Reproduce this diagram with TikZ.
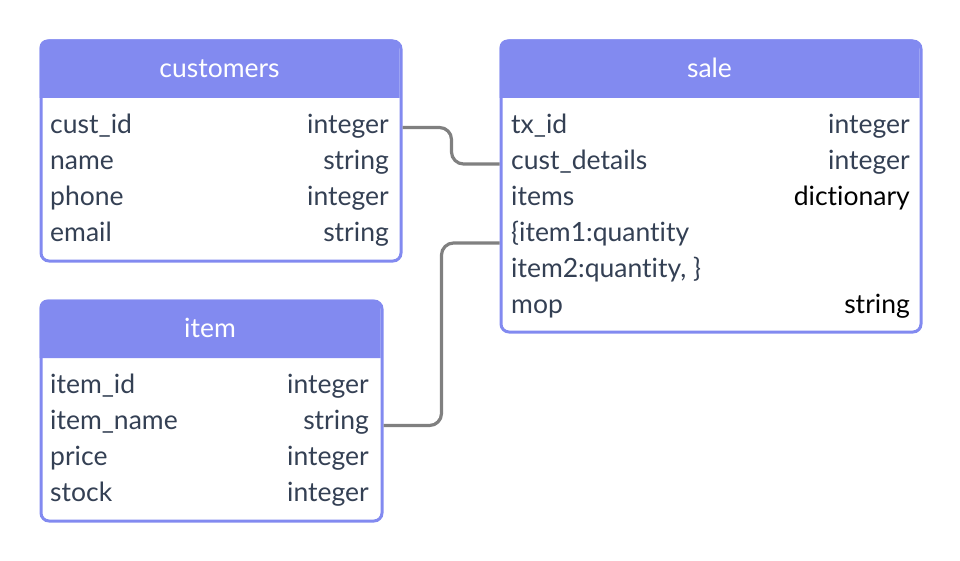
\documentclass[tikz,border=0pt]{standalone}
\usepackage{fontspec}
\setmainfont{Lato}[Ligatures=NoCommon]
\usepackage{xcolor}
\usetikzlibrary{positioning}

\definecolor{tablecolor}{RGB}{130,138,240}
\definecolor{fieldtext}{RGB}{52,64,84}
\definecolor{linkgray}{RGB}{128,128,128}

\begin{document}
\begin{tikzpicture}[x=1pt,y=-1pt,
  tablebox/.style={draw=tablecolor,fill=white,line width=3pt,rounded corners=8pt,anchor=north west,inner sep=0pt},
  headfill/.style={fill=tablecolor},
  title/.style={anchor=base,text=white,font=\fontsize{26.5}{30}\selectfont,inner sep=0pt},
  field/.style={anchor=base west,text=fieldtext,font=\fontsize{26.5}{30}\selectfont,inner sep=0pt,text height=18pt,text depth=6pt},
  ftype/.style={field,anchor=base east},
  link/.style={draw=linkgray,line width=3.2pt,rounded corners=12pt}]
\useasboundingbox (0,0) rectangle (960,561);

% customers table
\node[tablebox,minimum width=360pt,minimum height=220pt] (customers) at (39.5,39.5) {};
\fill[headfill] (39.5,98) [rounded corners=8pt] -- (39.5,39.5) -- (399.5,39.5) [sharp corners] -- (399.5,98) -- cycle;
\node[title] (customers-title) at (219.5,77.5) {customers};
\node[field] (cust-id) at (50,133.5) {cust\_id};
\node[ftype] (cust-id-t) at (389,133.5) {integer};
\node[field] (cust-name) at (50,169.5) {name};
\node[ftype] (cust-name-t) at (389,169.5) {string};
\node[field] (cust-phone) at (50,205.5) {phone};
\node[ftype] (cust-phone-t) at (389,205.5) {integer};
\node[field] (cust-email) at (50,241.5) {email};
\node[ftype] (cust-email-t) at (389,241.5) {string};

% sale table
\node[tablebox,minimum width=420pt,minimum height=291pt] (sale) at (499.5,39.5) {};
\fill[headfill] (499.5,98) [rounded corners=8pt] -- (499.5,39.5) -- (919.5,39.5) [sharp corners] -- (919.5,98) -- cycle;
\node[title] (sale-title) at (709.5,77.5) {sale};
\node[field] (sale-tx) at (511,133.5) {tx\_id};
\node[ftype] (sale-tx-t) at (910,133.5) {integer};
\node[field] (sale-cust) at (511,169.5) {cust\_details};
\node[ftype] (sale-cust-t) at (910,169.5) {integer};
\node[field] (sale-items) at (511,205.5) {items};
\node[ftype,text=black] (sale-items-t) at (910,205.5) {dictionary};
\node[field] (sale-item1) at (511,241.5) {\{item1:quantity};
\node[field] (sale-item2) at (511,277.5) {item2:quantity, \}};
\node[field] (sale-mop) at (511,313.5) {mop};
\node[ftype,text=black] (sale-mop-t) at (910,313.5) {string};

% item table
\node[tablebox,minimum width=341pt,minimum height=220pt] (item) at (39.5,299.5) {};
\fill[headfill] (39.5,358) [rounded corners=8pt] -- (39.5,299.5) -- (380.5,299.5) [sharp corners] -- (380.5,358) -- cycle;
\node[title] (item-title) at (210,337.5) {item};
\node[field] (item-id) at (50,393.5) {item\_id};
\node[ftype] (item-id-t) at (369,393.5) {integer};
\node[field] (item-name) at (50,429.5) {item\_name};
\node[ftype] (item-name-t) at (369,429.5) {string};
\node[field] (item-price) at (50,465.5) {price};
\node[ftype] (item-price-t) at (369,465.5) {integer};
\node[field] (item-stock) at (50,501.5) {stock};
\node[ftype] (item-stock-t) at (369,501.5) {integer};

% links
\coordinate (sale-items-in) at (sale.west |- 0,243);
\coordinate (sale-cust-in) at (sale.west |- 0,164);
\draw[link] (cust-id-t -| customers.east) -- +(49,0) |- (sale-cust-in);
\draw[link] ([yshift=-2pt]item-name-t.east -| item.east) -- +(58,0) |- (sale-items-in);
\end{tikzpicture}
\end{document}
